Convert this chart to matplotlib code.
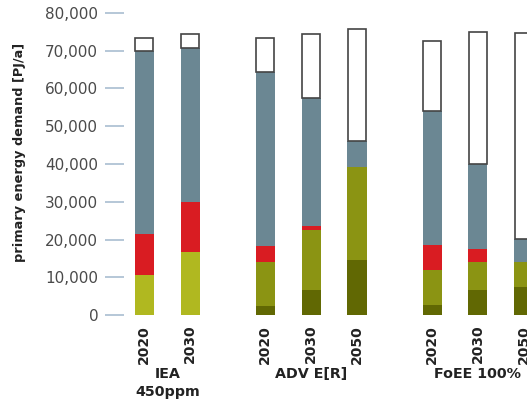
import numpy as np
import matplotlib.pyplot as plt
from matplotlib.transforms import blended_transform_factory

# scenario groups and the years shown for each
groups = ['IEA\n450ppm', 'ADV E[R]', 'FoEE 100%']
group_years = [['2020', '2030'],
               ['2020', '2030', '2050'],
               ['2020', '2030', '2050']]

# stacked segments in PJ/a, bottom to top, one value per bar
dark_olive = [0, 0, 2400, 6700, 14600, 2700, 6700, 7400]
olive = [0, 0, 11700, 15800, 24500, 9300, 7400, 6700]
lime = [10500, 16700, 0, 0, 0, 0, 0, 0]
red = [11000, 13300, 4200, 1100, 0, 6600, 3400, 0]
grey = [48400, 40600, 46100, 34000, 7000, 35400, 22500, 6100]
saving = [3500, 3700, 9000, 16700, 29700, 18700, 35000, 54400]

yticks = [0, 10000, 20000, 30000, 40000, 50000, 60000, 70000, 80000]

# bar x positions: unit spacing inside a group, wider gap between groups
gap = 1.64
pos = []
start = 0.0
for yrs in group_years:
    pos.extend(start + np.arange(len(yrs)))
    start = pos[-1] + gap
pos = np.array(pos)
years = [y for yrs in group_years for y in yrs]

fig = plt.figure(figsize=(5.27, 4.05), dpi=100)
ax = fig.add_axes([0.235, 0.222, 0.765, 0.746])

w = 0.415
layers = [(dark_olive, '#616803'), (olive, '#8b9413'), (lime, '#b0b820'),
          (red, '#d91c22'), (grey, '#6b8793')]
bottom = np.zeros(len(pos))
for vals, col in layers:
    vals = np.array(vals)
    ax.bar(pos, vals, w, bottom=bottom, color=col, linewidth=0)
    bottom += vals
ax.bar(pos, saving, w * 0.95, bottom=bottom, color='white',
       edgecolor='#444444', linewidth=1.2)

ax.set_ylim(0, 80000)
ax.set_xlim(-0.448, 8.35)
ax.set_yticks(yticks)
ax.set_yticklabels([f'{v:,}' for v in yticks], fontsize=11, color='#4a4a4a')
ax.tick_params(axis='y', length=13.5, width=1.2, color='#a9bdd1', pad=5)

ax.set_xticks(pos)
ax.set_xticklabels(years, rotation=90, fontsize=10, fontweight='bold',
                   color='#222222')
ax.tick_params(axis='x', length=0, pad=7)

for s in ax.spines.values():
    s.set_visible(False)

fig.text(20 / 527, 1 - 152.5 / 405, 'primary energy demand [PJ/a]',
         rotation=90, ha='center', va='center', fontsize=9.3,
         fontweight='bold', color='#222222')

# group names under the year labels
trans = blended_transform_factory(ax.transData, fig.transFigure)
i = 0
for name, yrs in zip(groups, group_years):
    xs = pos[i:i + len(yrs)]
    ax.text(xs.mean(), 1 - 367 / 405, name, transform=trans, ha='center',
            va='top', fontsize=10.3, fontweight='bold', color='#222222',
            linespacing=1.4)
    i += len(yrs)

fig.savefig('out.png', dpi=100)
